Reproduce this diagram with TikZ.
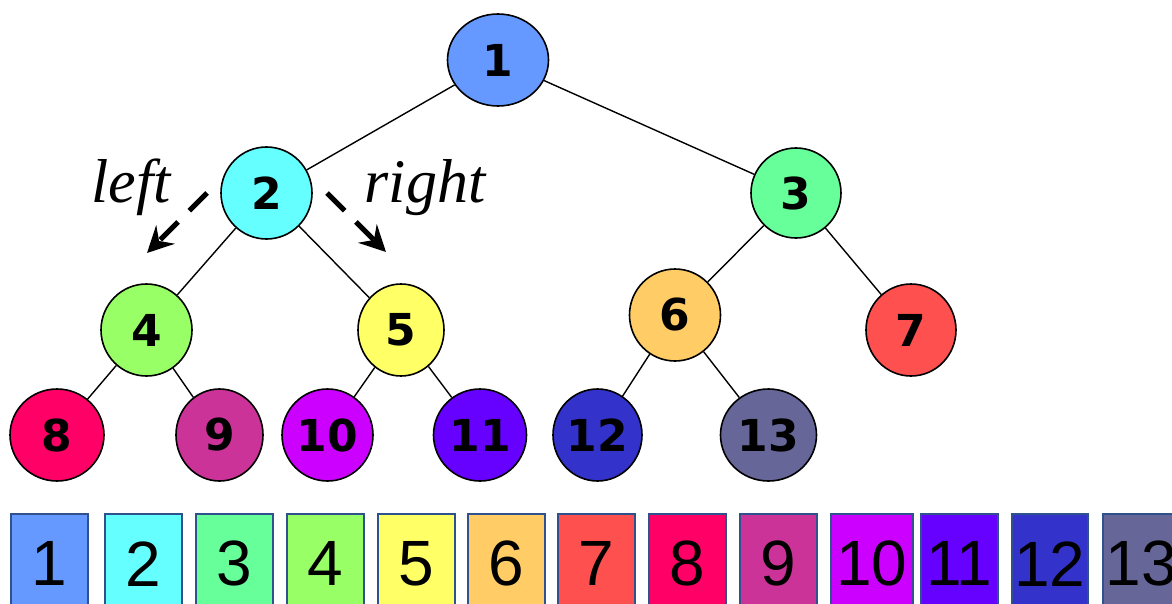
\documentclass[tikz,border=0pt]{standalone}
\usepackage{fontspec}
\usetikzlibrary{shapes.geometric,arrows.meta}
\newfontfamily\treefont{DejaVu Sans}
\newfontfamily\cellfont{Liberation Sans}
\newfontfamily\wordfont{Liberation Serif}

\definecolor{c1}{HTML}{6699FF}
\definecolor{c2}{HTML}{66FFFF}
\definecolor{c3}{HTML}{66FF99}
\definecolor{c4}{HTML}{99FF66}
\definecolor{c5}{HTML}{FFFF66}
\definecolor{c6}{HTML}{FFCC66}
\definecolor{c7}{HTML}{FF5050}
\definecolor{c8}{HTML}{FF0066}
\definecolor{c9}{HTML}{CC3399}
\definecolor{c10}{HTML}{CC00FF}
\definecolor{c11}{HTML}{6600FF}
\definecolor{c12}{HTML}{3333CC}
\definecolor{c13}{HTML}{666699}
\definecolor{cellborder}{HTML}{2F528F}

\tikzset{
  tnode/.style={ellipse, draw=black, line width=1.6pt, inner sep=0pt,
    font=\treefont\bfseries\fontsize{44}{50}\selectfont},
  cell/.style={rectangle, draw=cellborder, line width=1.6pt, inner sep=0pt,
    minimum height=100pt, anchor=north west,
    font=\cellfont\fontsize{64}{70}\selectfont},
  edge/.style={draw=black, line width=1.4pt},
  hint/.style={draw=black, line width=5pt, dash pattern=on 25pt off 16pt,
    -{Stealth[length=26pt, width=26pt, inset=9pt]}},
  word/.style={font=\wordfont\itshape\fontsize{62}{68}\selectfont, anchor=base}
}

\begin{document}
\begin{tikzpicture}[x=1pt, y=-1pt]
\useasboundingbox (0,0) rectangle (1172,604);
\clip (0,0) rectangle (1172,604);

% tree nodes
\node[tnode, fill=c1, minimum width=101pt, minimum height=92pt] (n1) at (498,60) {1};
\node[tnode, fill=c2, minimum width=91pt, minimum height=92pt] (n2) at (266.5,193) {2};
\node[tnode, fill=c3, minimum width=90pt, minimum height=90pt] (n3) at (796,193) {3};
\node[tnode, fill=c4, minimum width=91pt, minimum height=92pt] (n4) at (146.5,330) {4};
\node[tnode, fill=c5, minimum width=86pt, minimum height=92pt] (n5) at (401,330) {5};
\node[tnode, fill=c6, minimum width=91pt, minimum height=92pt] (n6) at (675,315) {6};
\node[tnode, fill=c7, minimum width=90pt, minimum height=92pt] (n7) at (911,330) {7};
\node[tnode, fill=c8, minimum width=94pt, minimum height=92pt] (n8) at (57,435) {8};
\node[tnode, fill=c9, minimum width=87pt, minimum height=92pt] (n9) at (219.5,435) {9};
\node[tnode, fill=c10, minimum width=91pt, minimum height=92pt] (n10) at (327.5,435) {\raisebox{-4pt}{10}};
\node[tnode, fill=c11, minimum width=93pt, minimum height=92pt] (n11) at (480,435) {11};
\node[tnode, fill=c12, minimum width=89pt, minimum height=92pt] (n12) at (597.5,435) {12};
\node[tnode, fill=c13, minimum width=96pt, minimum height=92pt] (n13) at (768.5,435) {13};

% tree edges
\draw[edge] (n1) -- (n2);
\draw[edge] (n1) -- (n3);
\draw[edge] (n2) -- (n4);
\draw[edge] (n2) -- (n5);
\draw[edge] (n3) -- (n6);
\draw[edge] (n3) -- (n7);
\draw[edge] (n4) -- (n8);
\draw[edge] (n4) -- (n9);
\draw[edge] (n5) -- (n10);
\draw[edge] (n5) -- (n11);
\draw[edge] (n6) -- (n12);
\draw[edge] (n6) -- (n13);

% direction hints
\coordinate (ls) at (207,193);
\coordinate (le) at (147,253);
\coordinate (rs) at (327,193);
\coordinate (re) at (386,252);
\draw[hint] (ls) -- (le);
\draw[hint] (rs) -- (re);
\node[word] (wl) at (131,203) {left};
\node[word] (wr) at (425,203) {right};

% array cells
\node[cell, fill=c1, minimum width=77pt] (a1) at (10,513) {1};
\node[cell, fill=c2, minimum width=77pt] (a2) at (104,513) {2};
\node[cell, fill=c3, minimum width=77pt] (a3) at (195,513) {3};
\node[cell, fill=c4, minimum width=77pt] (a4) at (286,513) {4};
\node[cell, fill=c5, minimum width=77pt] (a5) at (377,513) {5};
\node[cell, fill=c6, minimum width=77pt] (a6) at (467,513) {6};
\node[cell, fill=c7, minimum width=77pt] (a7) at (557,513) {7};
\node[cell, fill=c8, minimum width=77pt] (a8) at (648,513) {8};
\node[cell, fill=c9, minimum width=77pt] (a9) at (739,513) {9};
\node[cell, fill=c10, minimum width=82pt] (a10) at (830,513) {10};
\node[cell, fill=c11, minimum width=77pt] (a11) at (920,513) {11};
\node[cell, fill=c12, minimum width=76pt] (a12) at (1011,513) {12};
\node[cell, fill=c13, minimum width=77pt] (a13) at (1102,513) {13};
\end{tikzpicture}
\end{document}
